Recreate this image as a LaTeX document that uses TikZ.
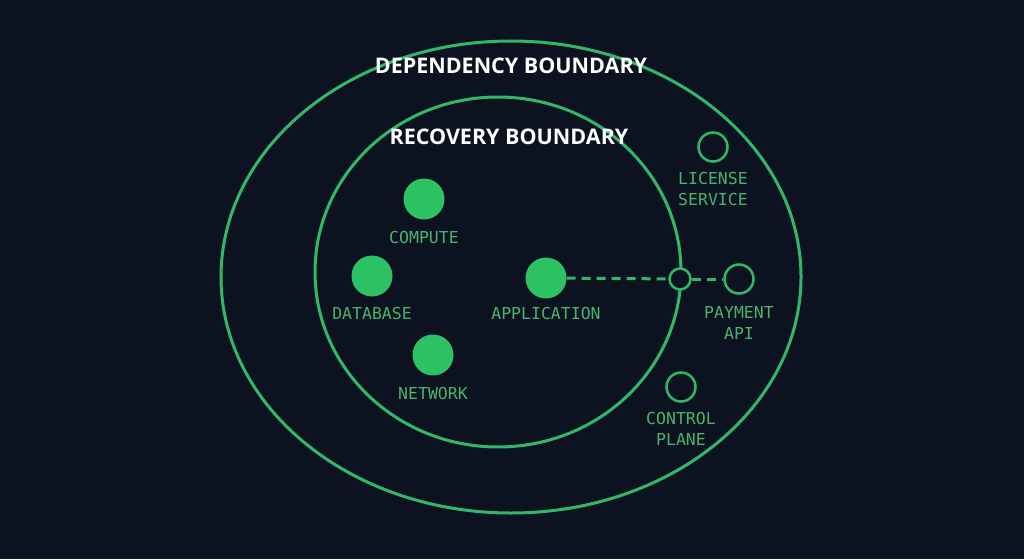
\documentclass[tikz,border=0pt]{standalone}
\usepackage{fontspec}
\setmainfont{Open Sans}
\newfontfamily\labfont{DejaVu Sans Mono}
\begin{document}
\begin{tikzpicture}[x=1pt,y=-1pt,
  grn/.style={draw=gline,line width=3pt},
  filled/.style={circle,fill=gfill,minimum size=41pt,inner sep=0pt},
  hollow/.style={circle,draw=gline,line width=2.5pt,minimum size=29pt,inner sep=0pt},
  lab/.style={text=glab,font=\labfont\fontsize{16.5}{21}\selectfont,align=center},
  ttl/.style={text=white,font=\bfseries\fontsize{21.5}{26}\selectfont}]
\definecolor{bg}{HTML}{0C1220}
\definecolor{gline}{HTML}{2FB868}
\definecolor{gfill}{HTML}{2CC163}
\definecolor{glab}{HTML}{45B56E}
\fill[bg] (0,0) rectangle (1024,559);
\useasboundingbox (0,0) rectangle (1024,559);
\draw[grn] (511,277) ellipse [x radius=290,y radius=236];
\draw[grn] (498,272) ellipse [x radius=183,y radius=175];
\node[ttl] (t1) at (511,66) {DEPENDENCY BOUNDARY};
\node[ttl] (t2) at (509,137) {RECOVERY BOUNDARY};
\node[filled] (comp) at (424,199) {};
\node[filled] (db) at (372,276) {};
\node[filled] (app) at (546,278) {};
\node[filled] (net) at (433,355) {};
\node[lab] at (424,237) {COMPUTE};
\node[lab] at (372,313) {DATABASE};
\node[lab] at (546,313) {APPLICATION};
\node[lab] at (433,393) {NETWORK};
\node[hollow] (lic) at (713,147) {};
\node[hollow] (pay) at (739,279) {};
\node[hollow] (ctl) at (681,387) {};
\node[circle,draw=gline,line width=2.5pt,minimum size=21pt,inner sep=0pt,fill=bg] (jn) at (680,279) {};
\draw[gline,line width=3pt,dash pattern=on 9pt off 6pt] (app) -- (jn);
\draw[gline,line width=3pt,dash pattern=on 9pt off 6pt] (jn) -- (pay);
\node[lab] at (713,189) {LICENSE\\SERVICE};
\node[lab] at (739,323) {PAYMENT\\API};
\node[lab] at (681,429) {CONTROL\\PLANE};
\end{tikzpicture}
\end{document}
